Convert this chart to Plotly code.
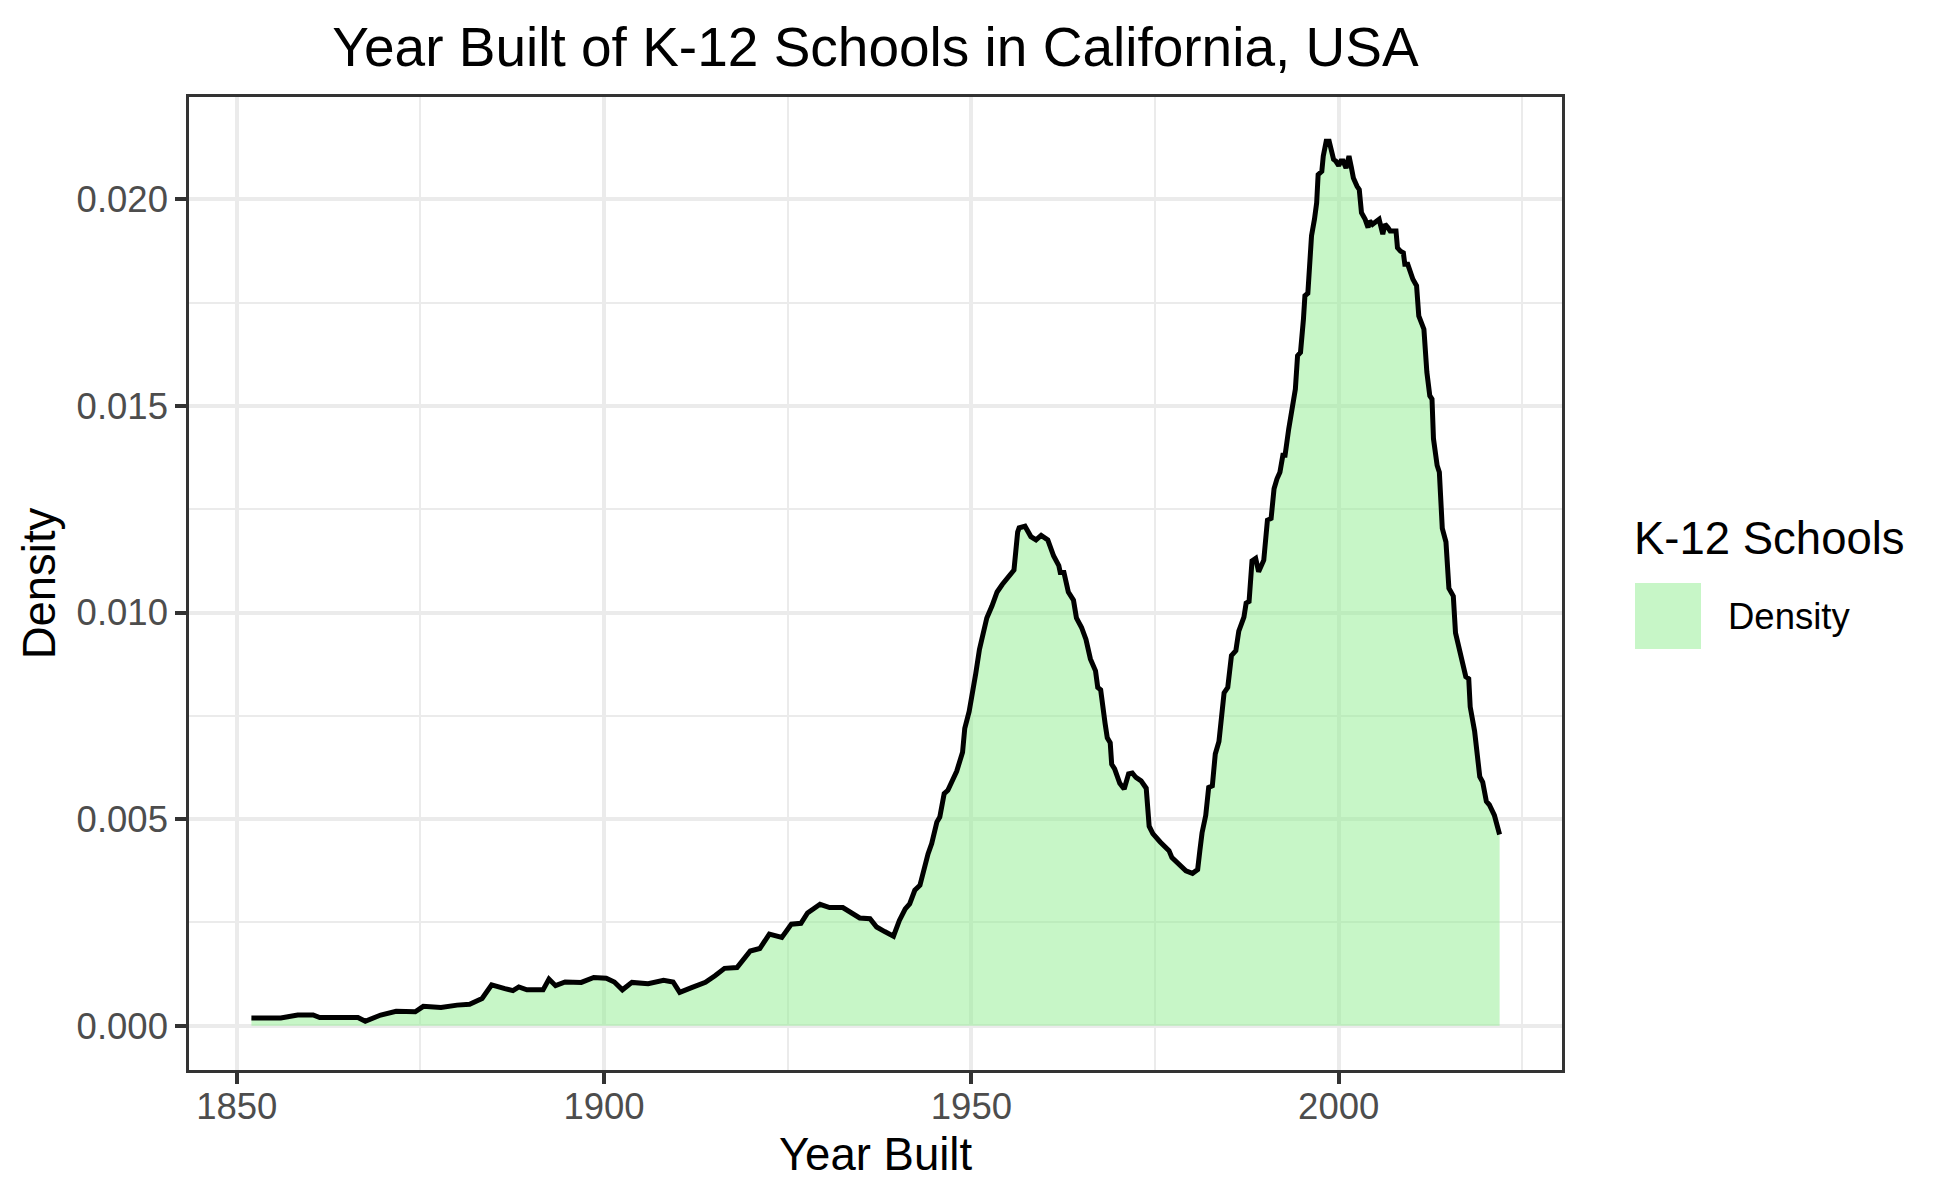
import plotly.graph_objects as go

# ---- data (density in units of 1e-3) ----
year_built = [
    1852.0, 1856.0, 1858.3, 1860.4, 1861.3, 1866.5, 1867.5, 1869.6, 1871.7, 1874.3,
    1875.4, 1877.8, 1880.0, 1881.7, 1883.4, 1884.7, 1886.5, 1887.6, 1888.4, 1889.5,
    1891.7, 1892.5, 1893.4, 1894.7, 1896.9, 1898.6, 1900.3, 1901.4, 1902.5, 1903.8,
    1906.0, 1908.1, 1909.4, 1910.3, 1912.0, 1913.8, 1915.1, 1916.4, 1918.1, 1919.9,
    1921.2, 1922.5, 1924.2, 1925.5, 1926.8, 1927.7, 1929.4, 1930.7, 1932.5, 1933.8,
    1934.8, 1936.2, 1937.1, 1938.2, 1939.4, 1940.2, 1941.0, 1941.6, 1942.3, 1943.0,
    1943.4, 1944.1, 1944.6, 1945.3, 1945.7, 1946.3, 1946.8, 1947.5, 1948.0, 1948.8,
    1949.1, 1949.7, 1950.2, 1950.6, 1951.1, 1951.6, 1952.1, 1952.8, 1953.5, 1954.2,
    1955.0, 1955.8, 1956.3, 1956.5, 1957.3, 1958.1, 1958.8, 1959.5, 1960.4, 1961.2,
    1961.9, 1962.1, 1962.6, 1963.2, 1963.9, 1964.3, 1965.0, 1965.6, 1966.2, 1966.9,
    1967.2, 1967.6, 1968.2, 1968.5, 1968.9, 1969.1, 1969.5, 1970.2, 1970.8, 1971.4,
    1971.9, 1972.4, 1973.1, 1973.8, 1974.2, 1974.7, 1975.7, 1976.2, 1976.9, 1977.3,
    1978.0, 1978.7, 1979.2, 1980.1, 1980.8, 1981.1, 1981.4, 1981.9, 1982.3, 1982.8,
    1983.2, 1983.7, 1984.4, 1984.9, 1985.4, 1986.0, 1986.4, 1987.1, 1987.4, 1987.8,
    1988.2, 1988.7, 1989.1, 1989.8, 1990.3, 1990.8, 1991.2, 1991.6, 1992.0, 1992.4,
    1992.7, 1993.2, 1993.6, 1994.1, 1994.4, 1994.8, 1995.2, 1995.4, 1995.8, 1996.0,
    1996.3, 1996.7, 1997.0, 1997.2, 1997.7, 1997.9, 1998.3, 1998.7, 1999.1, 1999.3,
    1999.6, 2000.0, 2000.3, 2000.6, 2001.0, 2001.4, 2001.7, 2002.0, 2002.5, 2002.8,
    2003.1, 2003.6, 2004.0, 2004.2, 2004.6, 2005.1, 2005.5, 2006.0, 2006.3, 2006.7,
    2007.0, 2007.8, 2008.0, 2008.4, 2008.8, 2009.0, 2009.4, 2010.1, 2010.6, 2010.9,
    2011.6, 2012.0, 2012.4, 2012.7, 2012.9, 2013.4, 2013.7, 2014.1, 2014.6, 2015.0,
    2015.3, 2015.6, 2015.9, 2016.4, 2017.3, 2017.7, 2017.9, 2018.5, 2019.2, 2019.6,
    2020.1, 2020.5, 2021.2, 2021.9,
]

density_milli = [
    0.19, 0.19, 0.26, 0.26, 0.20, 0.20, 0.11, 0.26, 0.35, 0.34,
    0.47, 0.44, 0.50, 0.52, 0.66, 0.99, 0.90, 0.85, 0.94, 0.87,
    0.87, 1.13, 0.97, 1.06, 1.05, 1.17, 1.15, 1.06, 0.87, 1.05,
    1.02, 1.10, 1.06, 0.81, 0.93, 1.05, 1.21, 1.39, 1.41, 1.81,
    1.87, 2.22, 2.14, 2.46, 2.48, 2.73, 2.94, 2.86, 2.86, 2.73,
    2.61, 2.59, 2.39, 2.28, 2.17, 2.55, 2.83, 2.95, 3.28, 3.40,
    3.72, 4.16, 4.41, 4.93, 5.05, 5.62, 5.70, 5.98, 6.16, 6.62,
    7.20, 7.61, 8.07, 8.53, 9.11, 9.52, 9.87, 10.16, 10.50, 10.68,
    10.85, 11.03, 11.95, 12.05, 12.09, 11.84, 11.76, 11.87, 11.76, 11.37,
    11.14, 10.97, 10.97, 10.50, 10.30, 9.87, 9.64, 9.35, 8.88, 8.59,
    8.19, 8.13, 7.32, 6.97, 6.85, 6.33, 6.22, 5.87, 5.73, 6.10,
    6.12, 6.01, 5.93, 5.75, 4.83, 4.65, 4.45, 4.37, 4.24, 4.07,
    3.95, 3.84, 3.75, 3.69, 3.78, 4.24, 4.67, 5.09, 5.77, 5.81,
    6.58, 6.88, 8.06, 8.19, 8.96, 9.08, 9.55, 9.89, 10.23, 10.27,
    11.25, 11.31, 10.99, 11.27, 12.24, 12.28, 13.00, 13.24, 13.40, 13.81,
    13.81, 14.45, 14.93, 15.41, 16.22, 16.30, 17.10, 17.67, 17.73, 18.47,
    19.12, 19.52, 19.92, 20.60, 20.68, 21.05, 21.41, 21.41, 21.05, 20.97,
    20.93, 20.82, 20.93, 20.93, 20.76, 21.05, 20.80, 20.52, 20.32, 20.24,
    19.68, 19.52, 19.32, 19.48, 19.40, 19.48, 19.52, 19.16, 19.40, 19.32,
    19.24, 19.24, 18.83, 18.75, 18.71, 18.43, 18.43, 18.07, 17.91, 17.18,
    16.86, 15.82, 15.25, 15.17, 14.21, 13.56, 13.40, 12.04, 11.71, 10.59,
    10.48, 10.40, 9.51, 9.08, 8.45, 8.40, 7.72, 7.13, 6.03, 5.90,
    5.43, 5.35, 5.09, 4.63,
]

density = [v / 1000.0 for v in density_milli]

x_ticks = [1850, 1900, 1950, 2000]
y_ticks = [0.000, 0.005, 0.010, 0.015, 0.020]

title_text = "Year Built of K-12 Schools in California, USA"
x_title = "Year Built"
y_title = "Density"
legend_title = "K-12 Schools"
legend_label = "Density"

# ---- styling ----
FONT = "Arial, Liberation Sans, Helvetica, sans-serif"
FILL = "rgba(144,238,144,0.5)"
W, H = 1950, 1200
ML, MR, MT, MB = 189, 388, 97, 130
PW = W - ML - MR
PH = H - MT - MB

xmin, xmax = min(year_built), max(year_built)
xpad = 0.05 * (xmax - xmin)
ymax = max(density)
ypad = 0.05 * ymax

fig = go.Figure()
fig.add_trace(go.Scatter(
    x=year_built, y=density, mode="lines", fill="tozeroy",
    fillcolor=FILL, line=dict(width=0, color="rgba(0,0,0,0)"),
    showlegend=False, hoverinfo="skip",
))
fig.add_trace(go.Scatter(
    x=year_built, y=density, mode="lines",
    line=dict(color="black", width=5),
    showlegend=False, name=legend_label,
))

axis_common = dict(
    showline=True, mirror=True, linecolor="#333333", linewidth=2.5,
    ticks="outside", ticklen=11, tickwidth=3.5, tickcolor="#333333",
    showgrid=True, gridcolor="#EBEBEB", gridwidth=4,
    zeroline=False,
    tickfont=dict(family=FONT, size=36.5, color="#4D4D4D"),
)

fig.update_xaxes(
    **axis_common,
    range=[xmin - xpad, xmax + xpad],
    tickmode="array", tickvals=x_ticks, ticktext=[str(v) for v in x_ticks],
    minor=dict(dtick=25, tick0=1850, showgrid=True, gridcolor="#EBEBEB",
               gridwidth=2, ticks=""),
    ticklabelstandoff=-9,
    title=dict(text=x_title, font=dict(family=FONT, size=45.5, color="black"),
               standoff=13),
)
fig.update_yaxes(
    **axis_common,
    range=[-ypad, ymax + ypad],
    tickmode="array", tickvals=y_ticks, ticktext=[f"{v:.3f}" for v in y_ticks],
    minor=dict(dtick=0.0025, tick0=0, showgrid=True, gridcolor="#EBEBEB",
               gridwidth=2, ticks=""),
    ticklabelstandoff=0,
    title=dict(text=y_title, font=dict(family=FONT, size=45.5, color="black"),
               standoff=7),
)


def px_x(px):
    return (px - ML) / PW


def px_y(py):
    return (H - MB - py) / PH


# manual legend (ggplot-style big key)
fig.add_shape(type="rect", xref="paper", yref="paper",
              x0=px_x(1635), x1=px_x(1701), y0=px_y(649), y1=px_y(583),
              fillcolor=FILL, line=dict(width=0), layer="above")
fig.add_annotation(text=legend_title, xref="paper", yref="paper",
                   x=px_x(1632), y=px_y(538), xanchor="left", yanchor="middle",
                   showarrow=False, font=dict(family=FONT, size=45.5, color="black"))
fig.add_annotation(text=legend_label, xref="paper", yref="paper",
                   x=px_x(1726), y=px_y(616), xanchor="left", yanchor="middle",
                   showarrow=False, font=dict(family=FONT, size=36.5, color="black"))

fig.update_layout(
    width=W, height=H,
    margin=dict(l=ML, r=MR, t=MT, b=MB, autoexpand=False),
    paper_bgcolor="white", plot_bgcolor="white",
    showlegend=False,
    title=dict(text=title_text, x=0.5, xref="paper", xanchor="center",
               y=1 - 47 / H, yref="container", yanchor="middle",
               font=dict(family=FONT, size=55, color="black")),
    font=dict(family=FONT),
)

fig.write_html("out.html", config={"displayModeBar": False},
               post_script="document.body.style.margin='0px';")
